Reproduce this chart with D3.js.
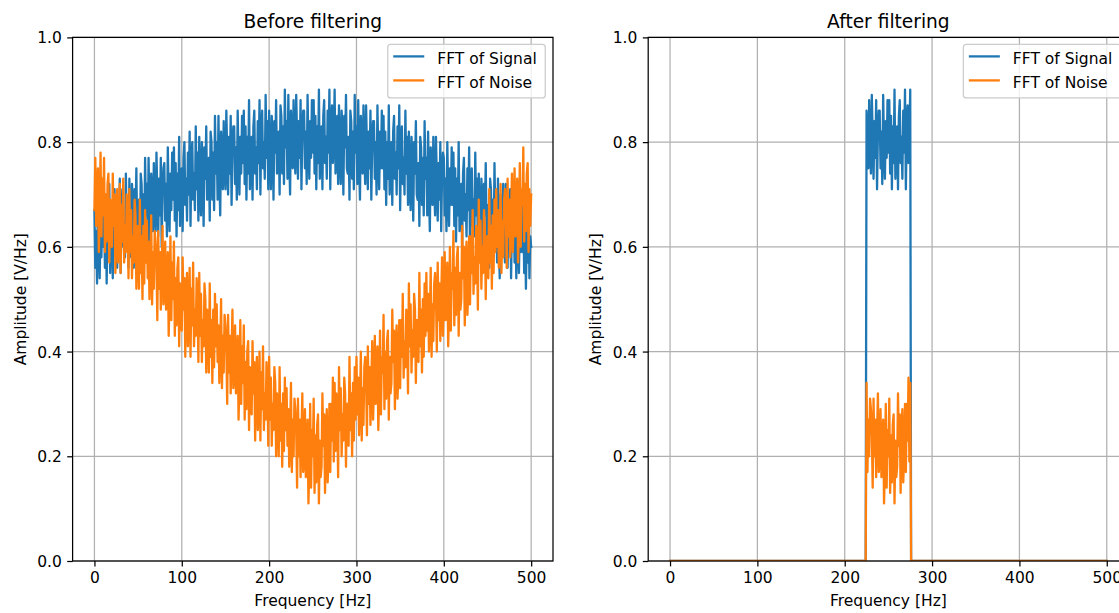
<!DOCTYPE html>
<html>
<head>
<meta charset="utf-8">
<script src="https://cdn.jsdelivr.net/npm/d3@7"></script>
<style>
  body { margin: 0; background: #fff; }
  svg { display: block; }
  text { font-family: "DejaVu Sans", sans-serif; fill: #000; }
</style>
</head>
<body>
<script>
// ---------------- data ----------------
const freqStart = 0, freqEnd = 500, freqStep = 1;          // Hz
const passBand = [225, 275];                                // Hz, band kept by the filter
const xTicks = [0, 100, 200, 300, 400, 500];
const yTicks = [0.0, 0.2, 0.4, 0.6, 0.8, 1.0];
const seriesNames = ["FFT of Signal", "FFT of Noise"];
const panelTitles = ["Before filtering", "After filtering"];

// amplitude of the signal spectrum, one value per Hz (0..500)
const signalFFT = [
  .67,.56,.63,.53,.70,.60,.54,.65,.58,.69,
  .60,.70,.56,.67,.53,.65,.58,.72,.55,.63,
  .66,.54,.68,.71,.59,.64,.56,.69,.61,.73,
  .55,.67,.71,.60,.65,.58,.74,.62,.69,.56,
  .73,.63,.58,.72,.68,.56,.71,.65,.75,.61,
  .62,.69,.57,.74,.72,.61,.70,.59,.77,.66,
  .72,.61,.77,.65,.58,.74,.69,.63,.76,.66,
  .63,.78,.70,.62,.73,.66,.77,.60,.71,.75,
  .76,.65,.72,.62,.79,.69,.63,.74,.67,.78,
  .69,.79,.65,.76,.62,.74,.67,.81,.64,.72,
  .75,.63,.77,.80,.68,.73,.65,.78,.70,.82,
  .64,.76,.80,.69,.74,.67,.83,.71,.78,.65,
  .81,.71,.66,.80,.76,.64,.79,.73,.83,.69,
  .70,.77,.65,.82,.80,.69,.78,.67,.85,.74,
  .80,.69,.85,.73,.66,.82,.77,.71,.84,.74,
  .71,.86,.78,.70,.81,.74,.85,.68,.79,.83,
  .83,.72,.79,.69,.86,.76,.70,.81,.74,.85,
  .76,.86,.72,.83,.69,.81,.74,.88,.71,.79,
  .81,.69,.83,.86,.74,.79,.71,.84,.76,.88,
  .70,.82,.86,.75,.80,.73,.89,.77,.84,.71,
  .86,.76,.71,.85,.81,.69,.84,.78,.88,.74,
  .75,.82,.70,.87,.85,.74,.83,.72,.90,.79,
  .84,.73,.89,.77,.70,.86,.81,.75,.88,.78,
  .74,.89,.81,.73,.84,.77,.88,.71,.82,.86,
  .86,.75,.82,.72,.89,.79,.73,.84,.77,.88,
  .78,.88,.74,.85,.71,.83,.76,.90,.73,.81,
  .83,.71,.85,.88,.76,.81,.73,.86,.78,.90,
  .71,.83,.87,.76,.81,.90,.74,.78,.85,.72,
  .87,.77,.72,.86,.82,.70,.85,.79,.89,.75,
  .74,.81,.69,.86,.84,.73,.82,.71,.89,.78,
  .83,.72,.88,.76,.69,.85,.80,.74,.87,.77,
  .72,.87,.79,.71,.82,.75,.86,.69,.80,.84,
  .84,.73,.80,.70,.87,.77,.71,.82,.75,.86,
  .75,.85,.71,.82,.68,.80,.73,.87,.70,.78,
  .80,.68,.82,.85,.73,.78,.70,.83,.75,.87,
  .67,.79,.83,.72,.77,.70,.86,.74,.81,.68,
  .82,.72,.67,.81,.77,.65,.80,.74,.84,.70,
  .69,.76,.64,.81,.79,.68,.77,.66,.84,.73,
  .77,.66,.82,.70,.63,.79,.74,.68,.81,.71,
  .66,.81,.73,.65,.76,.69,.80,.63,.74,.78,
  .77,.66,.73,.63,.80,.70,.64,.75,.68,.79,
  .68,.78,.64,.75,.61,.73,.66,.80,.63,.71,
  .72,.60,.74,.77,.65,.70,.62,.75,.67,.79,
  .59,.71,.75,.64,.69,.62,.78,.66,.73,.60,
  .74,.64,.59,.73,.69,.57,.72,.66,.76,.62,
  .61,.68,.56,.73,.71,.60,.69,.58,.76,.65,
  .68,.57,.73,.61,.54,.70,.65,.59,.72,.62,
  .57,.72,.64,.56,.67,.60,.71,.54,.65,.69,
  .68,.57,.64,.54,.71,.61,.55,.66,.59,.70,
  .59,.69,.55,.66,.52,.64,.57,.71,.54,.62,
  .60
];

// amplitude of the noise spectrum, one value per Hz (0..500)
const noiseFFT = [
  .67,.77,.64,.70,.75,.59,.66,.78,.62,.73,
  .66,.77,.59,.70,.61,.72,.74,.57,.69,.62,
  .60,.74,.64,.70,.55,.67,.71,.57,.62,.72,
  .55,.68,.61,.73,.57,.64,.59,.70,.66,.54,
  .71,.59,.67,.54,.62,.57,.69,.66,.52,.64,
  .60,.52,.69,.55,.62,.50,.64,.53,.67,.57,
  .65,.54,.61,.50,.56,.66,.49,.59,.52,.63,
  .61,.57,.46,.63,.52,.59,.48,.56,.64,.49,
  .51,.61,.48,.54,.59,.43,.50,.62,.46,.57,
  .50,.61,.43,.54,.45,.56,.58,.41,.53,.46,
  .44,.58,.48,.54,.39,.51,.55,.41,.46,.56,
  .39,.52,.45,.57,.41,.48,.43,.54,.50,.38,
  .55,.43,.51,.38,.46,.41,.53,.50,.36,.48,
  .44,.36,.53,.39,.46,.34,.48,.37,.51,.41,
  .49,.38,.45,.34,.40,.50,.33,.43,.36,.47,
  .45,.41,.30,.47,.36,.43,.32,.40,.48,.33,
  .35,.45,.32,.38,.43,.27,.34,.46,.30,.41,
  .34,.45,.27,.38,.29,.40,.42,.25,.37,.30,
  .28,.42,.32,.38,.23,.35,.39,.25,.30,.40,
  .23,.36,.29,.41,.25,.32,.27,.38,.34,.22,
  .39,.27,.35,.22,.30,.25,.37,.34,.20,.32,
  .28,.20,.37,.23,.30,.18,.32,.21,.35,.25,
  .33,.22,.29,.18,.24,.34,.17,.27,.20,.31,
  .29,.25,.14,.31,.20,.27,.16,.24,.32,.17,
  .19,.29,.16,.22,.27,.11,.18,.30,.14,.25,
  .20,.31,.13,.24,.15,.26,.28,.11,.23,.16,
  .18,.32,.22,.28,.13,.25,.29,.15,.20,.30,
  .17,.30,.23,.35,.19,.34,.21,.32,.28,.16,
  .37,.25,.33,.20,.28,.23,.35,.32,.18,.30,
  .30,.22,.39,.25,.32,.20,.34,.23,.37,.27,
  .39,.28,.35,.24,.30,.40,.23,.33,.26,.37,
  .39,.35,.24,.41,.30,.37,.26,.34,.42,.27,
  .33,.43,.30,.36,.41,.25,.32,.44,.28,.39,
  .36,.47,.29,.40,.31,.42,.44,.27,.39,.32,
  .34,.48,.38,.44,.29,.41,.45,.31,.36,.46,
  .33,.46,.39,.51,.35,.42,.37,.48,.44,.32,
  .53,.41,.49,.36,.44,.39,.51,.48,.34,.46,
  .46,.38,.55,.41,.48,.36,.50,.39,.53,.43,
  .55,.44,.51,.40,.46,.56,.39,.49,.42,.53,
  .55,.51,.40,.57,.46,.53,.42,.50,.58,.43,
  .49,.59,.46,.52,.57,.41,.48,.60,.44,.55,
  .52,.63,.45,.56,.47,.58,.60,.43,.55,.48,
  .50,.64,.54,.60,.45,.57,.61,.47,.52,.62,
  .49,.62,.55,.67,.51,.58,.53,.64,.60,.48,
  .69,.57,.65,.52,.60,.55,.67,.64,.50,.62,
  .62,.54,.71,.57,.64,.52,.66,.55,.69,.59,
  .71,.60,.67,.56,.62,.72,.55,.65,.58,.69,
  .71,.67,.56,.73,.62,.69,.58,.66,.74,.59,
  .65,.75,.62,.68,.73,.57,.64,.76,.60,.71,
  .68,.79,.61,.72,.63,.74,.76,.59,.71,.64,
  .70
];

// ---------------- layout ----------------
const W = 1119, H = 613;
const colors = ["#1f77b4", "#ff7f0e"];
const FS = 15.5;            // tick / label / legend font size
const TITLE_FS = 18.6;
const LW = 2.3;             // data line width
const THIN = 1.24;          // spine / grid / tick width
const TICK = 5.4;
const yTop = 37.4, yBottom = 561;
const panelsX = [[72.6, 553.0], [648.2, 1128.6]];

const freqs = d3.range(freqStart, freqEnd + freqStep / 2, freqStep);
const inBand = f => f >= passBand[0] && f <= passBand[1];

const rawSeries = [signalFFT, noiseFFT];
const panelData = [
  rawSeries.map(s => s.map((v, i) => ({ f: freqs[i], v }))),
  rawSeries.map(s => s.map((v, i) => ({ f: freqs[i], v: inBand(freqs[i]) ? v : 0 })))
];

const svg = d3.select("body").append("svg")
  .attr("width", W).attr("height", H)
  .attr("viewBox", `0 0 ${W} ${H}`);

svg.append("rect").attr("width", W).attr("height", H).attr("fill", "#fff");

panelsX.forEach((px, p) => {
  const x = d3.scaleLinear().domain([-25, 525]).range(px);
  const y = d3.scaleLinear().domain([0, 1]).range([yBottom, yTop]);
  const g = svg.append("g");

  // grid
  g.append("g").selectAll("line").data(xTicks).join("line")
    .attr("x1", d => x(d)).attr("x2", d => x(d))
    .attr("y1", yTop).attr("y2", yBottom)
    .attr("stroke", "#b0b0b0").attr("stroke-width", THIN);
  g.append("g").selectAll("line").data(yTicks).join("line")
    .attr("y1", d => y(d)).attr("y2", d => y(d))
    .attr("x1", px[0]).attr("x2", px[1])
    .attr("stroke", "#b0b0b0").attr("stroke-width", THIN);

  // clip
  const clipId = "clip" + p;
  svg.append("clipPath").attr("id", clipId).append("rect")
    .attr("x", px[0]).attr("y", yTop)
    .attr("width", px[1] - px[0]).attr("height", yBottom - yTop);

  const line = d3.line().x(d => x(d.f)).y(d => y(d.v));
  const lg = g.append("g").attr("clip-path", `url(#${clipId})`);
  panelData[p].forEach((series, k) => {
    lg.append("path").datum(series)
      .attr("d", line)
      .attr("fill", "none")
      .attr("stroke", colors[k])
      .attr("stroke-width", LW)
      .attr("stroke-linejoin", "round")
      .attr("stroke-linecap", "square");
  });

  // axes
  const xAxis = d3.axisBottom(x).tickValues(xTicks).tickSize(TICK).tickPadding(TICK)
    .tickFormat(d3.format("d"));
  const xa = g.append("g").attr("transform", `translate(0,${yBottom})`).call(xAxis);
  const yAxis = d3.axisLeft(y).tickValues(yTicks).tickSize(TICK).tickPadding(TICK)
    .tickFormat(d3.format(".1f"));
  const ya = g.append("g").attr("transform", `translate(${px[0]},0)`).call(yAxis);
  [xa, ya].forEach(a => {
    a.select(".domain").remove();
    a.selectAll(".tick line").attr("stroke", "#000").attr("stroke-width", THIN);
    a.selectAll(".tick text").attr("font-size", FS)
      .attr("font-family", "DejaVu Sans, sans-serif").attr("fill", "#000");
  });
  xa.selectAll(".tick text").attr("y", 22).attr("dy", 0);
  ya.selectAll(".tick text").attr("dy", "0.36em");

  // spines
  g.append("rect")
    .attr("x", px[0]).attr("y", yTop)
    .attr("width", px[1] - px[0]).attr("height", yBottom - yTop)
    .attr("fill", "none").attr("stroke", "#000").attr("stroke-width", THIN);

  // titles & labels
  const cx = (px[0] + px[1]) / 2;
  g.append("text").attr("x", cx).attr("y", 28)
    .attr("text-anchor", "middle").attr("font-size", TITLE_FS)
    .text(panelTitles[p]);
  g.append("text").attr("x", cx).attr("y", 606)
    .attr("text-anchor", "middle").attr("font-size", FS)
    .text("Frequency [Hz]");
  const ylx = px[0] - 47;
  g.append("text")
    .attr("transform", `translate(${ylx},${(yTop + yBottom) / 2}) rotate(-90)`)
    .attr("text-anchor", "middle").attr("font-size", FS)
    .text("Amplitude [V/Hz]");

  // legend
  const lgW = 157.5, lgH = 53.5;
  const lgX = px[1] - 7.75 - lgW, lgY = yTop + 7.0;
  const leg = g.append("g");
  leg.append("rect")
    .attr("x", lgX).attr("y", lgY).attr("width", lgW).attr("height", lgH)
    .attr("rx", 3).attr("ry", 3)
    .attr("fill", "#fff").attr("fill-opacity", 0.8)
    .attr("stroke", "#cccccc").attr("stroke-width", THIN);
  seriesNames.forEach((name, k) => {
    const ly = lgY + 12.0 + k * 24;
    leg.append("line")
      .attr("x1", lgX + 5.5).attr("x2", lgX + 5.5 + 31)
      .attr("y1", ly).attr("y2", ly)
      .attr("stroke", colors[k]).attr("stroke-width", LW);
    leg.append("text")
      .attr("x", lgX + 49.5).attr("y", ly + 7.5)
      .attr("font-size", FS).text(name);
  });
});
</script>
</body>
</html>
